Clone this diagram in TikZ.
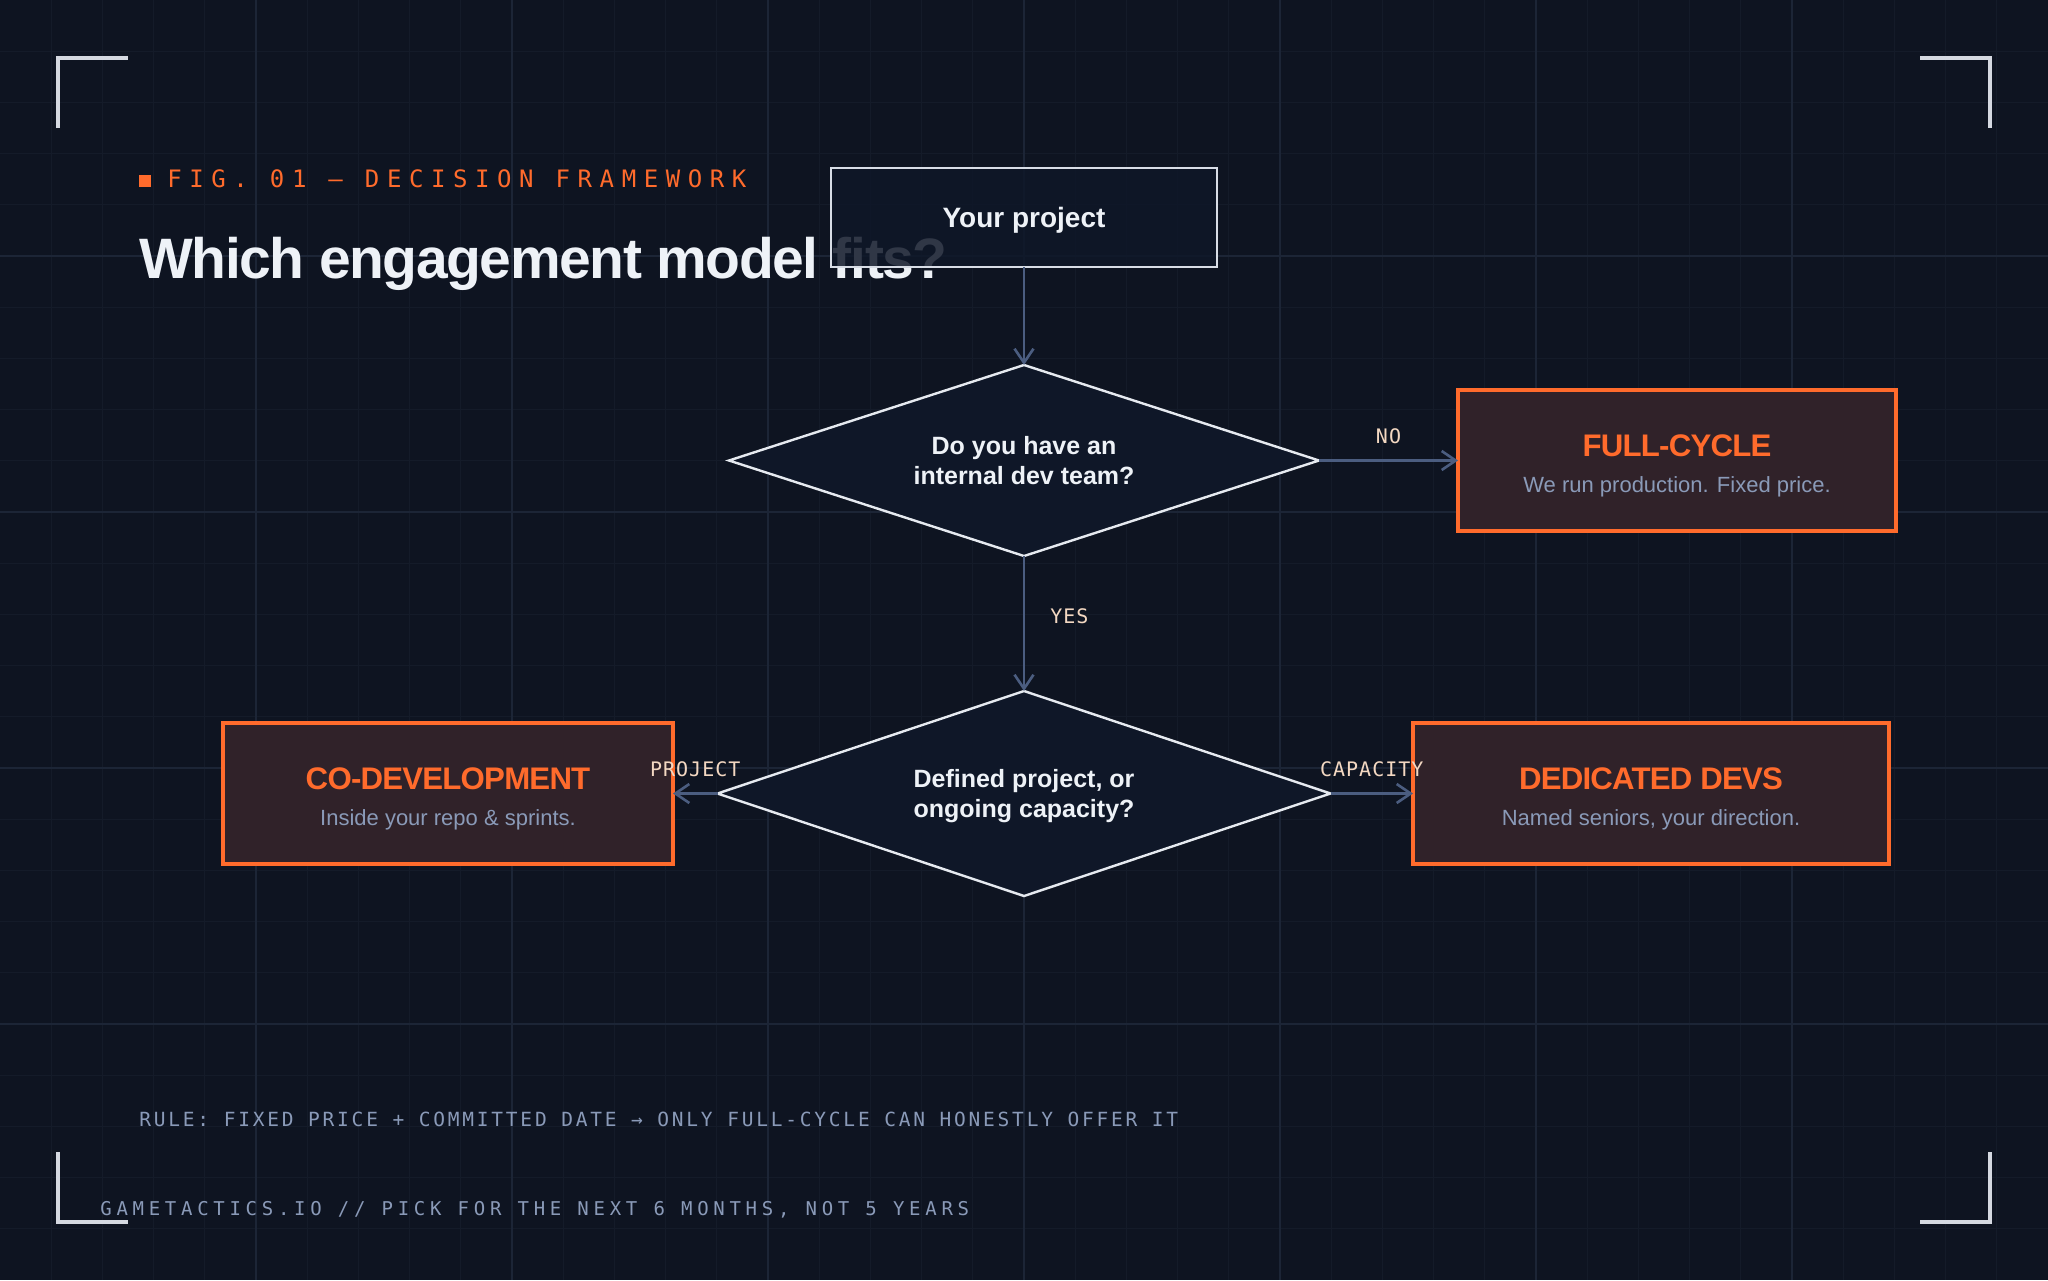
\documentclass[tikz,border=0pt]{standalone}
\usepackage{fontspec}
\setmainfont{Liberation Sans}
\newfontfamily\headfont[LetterSpace=31.6]{DejaVu Sans Mono}
\newfontfamily\rulefont[LetterSpace=14.3]{DejaVu Sans Mono}
\newfontfamily\footfont[LetterSpace=24.8]{DejaVu Sans Mono}
\newfontfamily\lblfont[LetterSpace=5]{DejaVu Sans Mono}
\newfontfamily\titlefont[LetterSpace=-2.5]{Liberation Sans}
\newfontfamily\tightfont[LetterSpace=-2.5]{Liberation Sans}
\usetikzlibrary{shapes.geometric,arrows.meta}
\definecolor{bgc}{HTML}{0E1421}
\definecolor{gridmin}{HTML}{141B29}
\definecolor{gridmaj}{HTML}{1C2536}
\definecolor{cornerc}{HTML}{D5D9E1}
\definecolor{accent}{HTML}{FF6B2C}
\definecolor{titlec}{HTML}{EEF2F7}
\definecolor{slate}{HTML}{8A9AB8}
\definecolor{arrc}{HTML}{4B5D80}
\definecolor{lblc}{HTML}{F3D8C2}
\definecolor{boxfill}{HTML}{302229}
\definecolor{dfill}{HTML}{0F1728}
\definecolor{nodeline}{HTML}{E6EAF0}
\definecolor{projline}{HTML}{D8DDE6}
\begin{document}
\begin{tikzpicture}[x=0.5pt,y=-0.5pt,
  arr/.style={draw=arrc, line width=1.3pt, -{Straight Barb[length=7pt,width=9.5pt,line width=1.3pt]}},
  lbl/.style={inner sep=0pt, text=lblc, font=\lblfont\fontsize{10}{12}\selectfont},
  decision/.style={diamond, aspect=3.1, inner sep=0pt, outer sep=0pt, draw=nodeline, line width=1.2pt,
    fill=dfill, align=center, text=titlec, font=\bfseries\fontsize{12.5}{15}\selectfont},
  outcome/.style={rectangle, inner sep=0pt, outer sep=0pt, draw=accent, line width=1.75pt, fill=boxfill,
    align=center, minimum height=70.5pt, font=\fontsize{11}{18}\selectfont},
  corner/.style={draw=cornerc, line width=2pt},
  monotext/.style={inner sep=0pt, anchor=base west}]
% background
\fill[bgc] (0,0) rectangle (2048,1280);
\useasboundingbox (0,0) rectangle (2048,1280);
\foreach \i in {1,...,39} \draw[gridmin, line width=0.5pt] (\i*51.2,0) -- (\i*51.2,1280);
\foreach \i in {1,...,24} \draw[gridmin, line width=0.5pt] (0,\i*51.2) -- (2048,\i*51.2);
\foreach \i in {1,...,7} \draw[gridmaj, line width=0.75pt] (\i*256,0) -- (\i*256,1280);
\foreach \i in {1,...,4} \draw[gridmaj, line width=0.75pt] (0,\i*256) -- (2048,\i*256);
% corner brackets
\draw[corner] (58,128) -- (58,58) -- (128,58);
\draw[corner] (1920,58) -- (1990,58) -- (1990,128);
\draw[corner] (58,1152) -- (58,1222) -- (128,1222);
\draw[corner] (1920,1222) -- (1990,1222) -- (1990,1152);
% header
\fill[accent] (139,175) rectangle (151,187);
\node[monotext, text=accent, font=\headfont\fontsize{12}{14}\selectfont] (head) at (167,187) {FIG. 01 — DECISION FRAMEWORK};
\node[monotext, text=titlec, font=\titlefont\bfseries\fontsize{28.5}{32}\selectfont] (title) at (139,278) {Which engagement model fits?};
% nodes
\node[rectangle, draw=projline, line width=1.25pt, fill=dfill, fill opacity=0.85, text opacity=1,
  minimum width=193pt, minimum height=49.5pt, inner sep=0pt, outer sep=0pt, text=titlec,
  font=\bfseries\fontsize{14}{16}\selectfont] (proj) at (1024,217.5) {\smash{Your project}\vphantom{Y}};
\node[decision, minimum width=295pt, minimum height=95.5pt] (d1) at (1024,460.5)
  {Do you have an\\\smash{internal dev team?}};
\node[outcome, minimum width=219pt] (full) at (1677,460.5)
  {\rule{0pt}{13.5pt}{\tightfont\bfseries\fontsize{15.6}{18}\selectfont\color{accent}FULL-CYCLE}\\
   {\color{slate}\smash{We run production. Fixed price.}}};
\node[decision, minimum width=306.5pt, minimum height=102.5pt] (d2) at (1024,793.5)
  {Defined project, or\\\smash{ongoing capacity?}};
\node[outcome, minimum width=225pt] (codev) at (448,793.5)
  {\rule{0pt}{13.5pt}{\tightfont\bfseries\fontsize{15.6}{18}\selectfont\color{accent}CO-DEVELOPMENT}\\
   {\color{slate}\smash{Inside your repo \& sprints.}}};
\node[outcome, minimum width=238pt] (dedic) at (1651,793.5)
  {\rule{0pt}{13.5pt}{\tightfont\bfseries\fontsize{15.6}{18}\selectfont\color{accent}DEDICATED DEVS}\\
   {\color{slate}\smash{Named seniors, your direction.}}};
% connectors
\draw[arr] (proj.south) -- (d1.north);
\draw[arr] (d1.east) -- node[lbl, anchor=base, yshift=8.5pt] (lno) {NO} (full.west);
\draw[arr] (d1.south) -- node[lbl, anchor=base west, xshift=12.5pt] (lyes) {YES} (d2.north);
\draw[arr] (d2.west) -- node[lbl, anchor=base, yshift=8.5pt] (lproj) {PROJECT} (codev.east);
\draw[arr] (d2.east) -- node[lbl, anchor=base, yshift=8.5pt] (lcap) {CAPACITY} (dedic.west);
% footer texts
\node[monotext, text=slate, font=\rulefont\fontsize{9.75}{12}\selectfont] (rule) at (139,1126)
  {RULE: FIXED PRICE + COMMITTED DATE → ONLY FULL-CYCLE CAN HONESTLY OFFER IT};
\node[monotext, text=slate, font=\footfont\fontsize{9.5}{12}\selectfont] (foot) at (100,1215)
  {GAMETACTICS.IO // PICK FOR THE NEXT 6 MONTHS, NOT 5 YEARS};
\end{tikzpicture}
\end{document}
